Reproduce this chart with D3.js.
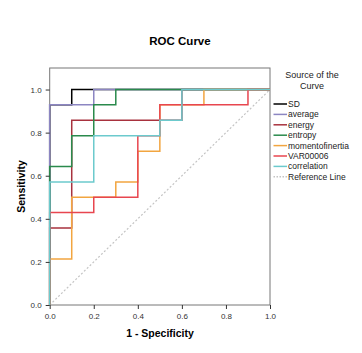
<!DOCTYPE html>
<html>
<head>
<meta charset="utf-8">
<script src="https://cdn.jsdelivr.net/npm/d3@7"></script>
<style>
  body { margin: 0; background: #fff; }
  text { font-family: "Liberation Sans", Arial, sans-serif; }
</style>
</head>
<body>
<script>
const width = 362,
  height = 353;

// ROC vertices (1 - specificity, sensitivity)
const sdX = [0, 0, 0.1, 0.1, 1];
const sdY = [0, 0.929, 0.929, 1, 1];
const averageX = [0, 0, 0.2, 0.2, 1];
const averageY = [0, 0.929, 0.929, 1, 1];
const energyX = [0, 0, 0.1, 0.1, 0.6, 0.6, 1];
const energyY = [0, 0.357, 0.357, 0.857, 0.857, 1, 1];
const entropyX = [0, 0, 0.1, 0.1, 0.2, 0.2, 0.3, 0.3, 1];
const entropyY = [0, 0.643, 0.643, 0.786, 0.786, 0.929, 0.929, 1, 1];
const momentX = [0, 0, 0.1, 0.1, 0.3, 0.3, 0.4, 0.4, 0.5, 0.5, 0.7, 0.7, 1];
const momentY = [0, 0.214, 0.214, 0.5, 0.5, 0.571, 0.571, 0.714, 0.714, 0.929, 0.929, 1, 1];
const varX = [0, 0, 0.2, 0.2, 0.4, 0.4, 0.5, 0.5, 0.9, 0.9, 1];
const varY = [0, 0.429, 0.429, 0.5, 0.5, 0.786, 0.786, 0.929, 0.929, 1, 1];
const corrX = [0, 0, 0.2, 0.2, 0.5, 0.5, 0.6, 0.6, 1];
const corrY = [0, 0.571, 0.571, 0.786, 0.786, 0.857, 0.857, 1, 1];

const seriesNames = ["SD", "average", "energy", "entropy", "momentofinertia", "VAR00006", "correlation"];
const seriesX = [sdX, averageX, energyX, entropyX, momentX, varX, corrX];
const seriesY = [sdY, averageY, energyY, entropyY, momentY, varY, corrY];
const colors = ["#000000", "#8c86c2", "#a8323e", "#2a8a4c", "#f2a540", "#e8464f", "#6ccacd"];

const ticks = [0, 0.2, 0.4, 0.6, 0.8, 1.0];

const x = d3.scaleLinear().domain([0, 1]).range([49.7, 270]);
const y = d3.scaleLinear().domain([0, 1.1]).range([305, 68]);

const svg = d3
  .select("body")
  .append("svg")
  .attr("width", width)
  .attr("height", height);

// frame
svg
  .append("rect")
  .attr("x", x(0))
  .attr("y", y(1.1))
  .attr("width", x(1) - x(0))
  .attr("height", y(0) - y(1.1))
  .attr("fill", "none")
  .attr("stroke", "#777")
  .attr("stroke-width", 1);

// reference line
svg
  .append("line")
  .attr("x1", x(0))
  .attr("y1", y(0))
  .attr("x2", x(1))
  .attr("y2", y(1))
  .attr("stroke", "#c4c4c4")
  .attr("stroke-width", 1.2)
  .attr("stroke-dasharray", "2,2");

const line = d3
  .line()
  .x((d) => x(d[0]))
  .y((d) => y(d[1]));

seriesNames.forEach((name, i) => {
  const pts = seriesX[i].map((v, j) => [v, seriesY[i][j]]);
  svg
    .append("path")
    .datum(pts)
    .attr("d", line)
    .attr("fill", "none")
    .attr("stroke", colors[i])
    .attr("stroke-width", 1.5);
});

// axes
const xAxis = svg
  .append("g")
  .attr("transform", `translate(0,${y(0)})`)
  .call(d3.axisBottom(x).tickValues(ticks).tickFormat(d3.format(".1f")).tickSize(4));
const yAxis = svg
  .append("g")
  .attr("transform", `translate(${x(0)},0)`)
  .call(d3.axisLeft(y).tickValues(ticks).tickFormat(d3.format(".1f")).tickSize(4));
[xAxis, yAxis].forEach((g) => {
  g.select(".domain").remove();
  g.selectAll("line").attr("stroke", "#333");
  g.selectAll("text")
    .attr("font-size", 8)
    .attr("fill", "#333")
    .style("font-family", "Liberation Sans, Arial, sans-serif");
});
xAxis.selectAll("text").attr("dy", "0.9em");
yAxis.selectAll("text").attr("dx", "-1");

// title and axis labels
svg
  .append("text")
  .attr("x", 180)
  .attr("y", 45)
  .attr("text-anchor", "middle")
  .attr("font-size", 11.5)
  .attr("font-weight", "bold")
  .text("ROC Curve");
svg
  .append("text")
  .attr("x", 160)
  .attr("y", 337)
  .attr("text-anchor", "middle")
  .attr("font-size", 10.5)
  .attr("font-weight", "bold")
  .text("1 - Specificity");
svg
  .append("text")
  .attr("transform", `translate(25,${(y(0) + y(1.1)) / 2}) rotate(-90)`)
  .attr("text-anchor", "middle")
  .attr("font-size", 10.5)
  .attr("font-weight", "bold")
  .text("Sensitivity");

// legend
const legend = svg.append("g").attr("transform", "translate(272,0)");
legend
  .append("text")
  .attr("x", 40)
  .attr("y", 78)
  .attr("text-anchor", "middle")
  .attr("font-size", 9)
  .attr("fill", "#222")
  .text("Source of the");
legend
  .append("text")
  .attr("x", 40)
  .attr("y", 89)
  .attr("text-anchor", "middle")
  .attr("font-size", 9)
  .attr("fill", "#222")
  .text("Curve");

const legendNames = seriesNames.concat(["Reference Line"]);
legendNames.forEach((name, i) => {
  const ly = 104 + i * 10.4;
  legend
    .append("line")
    .attr("x1", 1.5)
    .attr("x2", 15)
    .attr("y1", ly)
    .attr("y2", ly)
    .attr("stroke", i < colors.length ? colors[i] : "#c4c4c4")
    .attr("stroke-width", 1.5)
    .attr("stroke-dasharray", i < colors.length ? null : "1.5,1.5");
  legend
    .append("text")
    .attr("x", 16)
    .attr("y", ly + 3)
    .attr("font-size", 8.5)
    .attr("fill", "#222")
    .text(name);
});
</script>
</body>
</html>
